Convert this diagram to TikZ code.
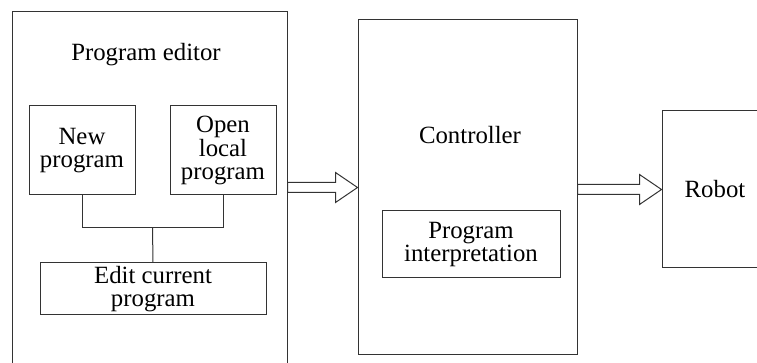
\documentclass[tikz,border=0pt]{standalone}
\usepackage{fontspec}
\setmainfont{Liberation Serif}
\newfontfamily\diagfont{Liberation Serif}
\usetikzlibrary{positioning,calc}

% hollow block arrow between two points, drawn at the height of the first
\newcommand{\hollowarrow}[2]{%
  \draw[line] let \p1=(#1), \p2=(#2) in
    (\x1,\y1+2.5pt) -- (\x2-11pt,\y1+2.5pt) -- (\x2-11pt,\y1+7.5pt) -- (\x2,\y1)
    -- (\x2-11pt,\y1-7.5pt) -- (\x2-11pt,\y1-2.5pt) -- (\x1,\y1-2.5pt) -- cycle;}

\begin{document}
\begin{tikzpicture}[
    x=0.5pt, y=-0.5pt,
    line/.style={draw=black!80, line width=0.5pt},
    frame/.style={rectangle, line, inner sep=0pt},
    unit/.style={rectangle, line, inner sep=0pt, align=center, font=\diagfont\fontsize{12.4}{11.6}\selectfont},
    caption/.style={inner sep=0pt, font=\diagfont\fontsize{12.4}{11.6}\selectfont}
]
\useasboundingbox (0,0) rectangle (757,363);

% Left - program editor
\node[frame, minimum width=137.5pt, minimum height=181.5pt] (editor) at (149.5,193.5) {};
\node[caption] (editor_title) at (146,55) {Program editor};
\node[unit, minimum width=53pt, minimum height=44.5pt] (new_prog) at (82,150.5) {New\\program};
\node[unit, minimum width=53pt, minimum height=44.5pt] (open_prog) at (223,150.5) {Open\\local\\program};
\node[unit, minimum width=113pt, minimum height=26pt] (edit_prog) at (153,289) {Edit current\\program};

% Middle - controller
\node[frame, minimum width=109.5pt, minimum height=167.5pt] (ctrl) at (467.5,187.5) {};
\node[caption] (ctrl_title) at (470,135) {Controller};
\node[unit, minimum width=89pt, minimum height=33.5pt] (interp) at (471,244.5) {Program\\interpretation};

% Right - robot
\node[unit, minimum width=53pt, minimum height=78.5pt] (robot) at (715,189.5) {Robot};

% Connectors
\coordinate (join) at ($(new_prog.south)!0.5!(open_prog.south)+(0,32)$);
\draw[line] (new_prog.south) |- (join) -| (open_prog.south);
\draw[line] (join) -- (edit_prog.north);
\hollowarrow{editor.east |- ctrl.west}{ctrl.west}
\hollowarrow{ctrl.east |- robot.west}{robot.west}

\end{tikzpicture}
\end{document}
